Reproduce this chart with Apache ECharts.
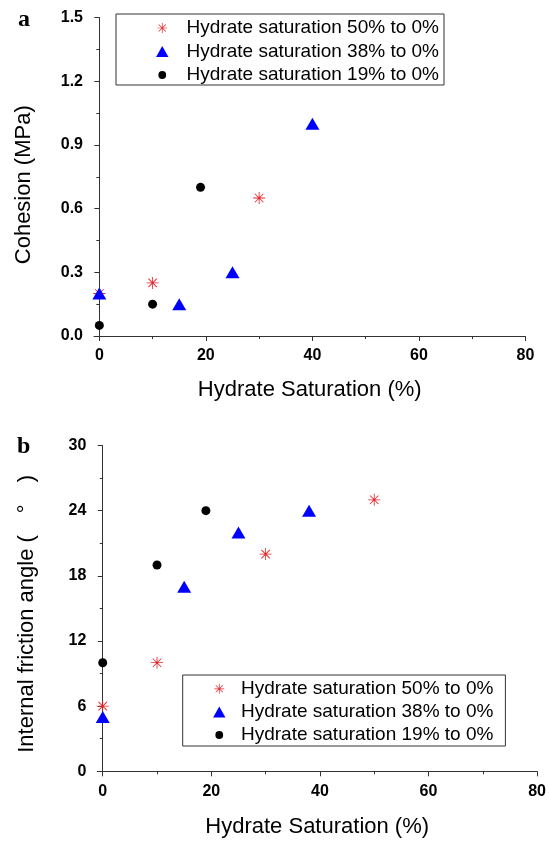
<!DOCTYPE html>
<html>
<head>
<meta charset="utf-8">
<script src="https://cdn.jsdelivr.net/npm/echarts@6/dist/echarts.min.js"></script>
<style>
html,body{margin:0;padding:0;background:#fff;}
#c{width:549px;height:843px;}
</style>
</head>
<body>
<div id="c"></div>
<script>
// ---- data ----
const seriesNames = ['Hydrate saturation 50% to 0%', 'Hydrate saturation 38% to 0%', 'Hydrate saturation 19% to 0%'];
const xTickValues = [0, 20, 40, 60, 80];
const xMinorValues = [10, 30, 50, 70];

// panel a: cohesion (MPa)
const cohX50 = [0, 10, 30];
const cohY50 = [0.2, 0.25, 0.65];
const cohX38 = [0, 15, 25, 40];
const cohY38 = [0.2, 0.15, 0.3, 1.0];
const cohX19 = [0, 10, 19];
const cohY19 = [0.05, 0.15, 0.7];

// panel b: internal friction angle (deg)
const friX50 = [0, 10, 30, 50];
const friY50 = [6, 10, 20, 25];
const friX38 = [0, 15, 25, 38];
const friY38 = [5, 17, 22, 24];
const friX19 = [0, 10, 19];
const friY19 = [10, 19, 24];

const zip = (xs, ys) => xs.map((x, i) => [x, ys[i]]);

const FONT = '"Liberation Sans", Arial, "Noto Sans CJK SC", sans-serif';
const AXC = '#333';
const RED = '#e8262a';
const BLUE = '#0000ff';
const BLACK = '#000000';
const STAR_BODY = 'M0 9.3L20 9.3L20 10.7L0 10.7Z M9.3 0L10.7 0L10.7 20L9.3 20Z M3.43 2.43L17.57 16.57L16.57 17.57L2.43 3.43Z M16.57 2.43L17.57 3.43L3.43 17.57L2.43 16.57Z M8 8L12 8L12 12L8 12Z';
const STAR = 'path://' + STAR_BODY;
// legend icons (degenerate corner points pad the icon box so the glyph keeps its size)
const LEG_STAR = 'path://M-1 -1Z M21 21Z ' + STAR_BODY;
const LEG_TRI = 'path://M5.5 0.5L11 10.3L0 10.3Z';
const LEG_DOT = 'path://M0 0Z M11 11Z M1.6 5.5A3.9 3.9 0 1 0 9.4 5.5A3.9 3.9 0 1 0 1.6 5.5Z';

const grids = [
  {left: 94, right: 23.5, top: 17.5, bottom: 507},
  {left: 97.3, right: 10.7, top: 445.5, bottom: 71.7}
];

function xAxisMain(gi, nameGap) {
  return {
    type: 'value', gridIndex: gi, min: -1, max: 80,
    name: 'Hydrate Saturation (%)', nameLocation: 'middle', nameGap: nameGap,
    nameTextStyle: {fontFamily: FONT, fontSize: 22, color: '#000'},
    axisLine: {show: true, lineStyle: {color: AXC, width: 1}},
    axisTick: {show: true, length: 5, customValues: xTickValues, lineStyle: {color: AXC}},
    axisLabel: {show: true, margin: 12, customValues: xTickValues, fontFamily: FONT, fontWeight: 'bold', fontSize: 16, color: '#000'},
    splitLine: {show: false}
  };
}
function xAxisMinor(gi) {
  return {
    type: 'value', gridIndex: gi, min: -1, max: 80, position: 'bottom',
    axisLine: {show: false},
    axisTick: {show: true, length: 3, customValues: xMinorValues, lineStyle: {color: AXC}},
    axisLabel: {show: false},
    splitLine: {show: false}
  };
}
function yAxis(gi, max, interval, name, nameGap, fmt, pad) {
  return {
    type: 'value', gridIndex: gi, min: 0, max: max, interval: interval,
    name: name, nameLocation: 'middle', nameGap: nameGap, nameRotate: 90,
    nameTextStyle: {fontFamily: FONT, fontSize: 22, color: '#000', padding: pad},
    axisLine: {show: true, lineStyle: {color: AXC, width: 1}},
    axisTick: {show: true, length: 5, lineStyle: {color: AXC}},
    minorTick: {show: true, splitNumber: 2, length: 3, lineStyle: {color: AXC}},
    axisLabel: {margin: 11, fontFamily: FONT, fontWeight: 'bold', fontSize: 16, color: '#000', formatter: fmt},
    splitLine: {show: false}, minorSplitLine: {show: false}
  };
}

function scat(name, data, xi, yi, sym, size, color) {
  return {
    type: 'scatter', name: name, xAxisIndex: xi, yAxisIndex: yi,
    symbol: sym, symbolSize: size, data: data,
    itemStyle: {color: color, opacity: 1},
    emphasis: {disabled: true}, animation: false
  };
}

function legend(left, top, pad, itemW, gap) {
  return {
    orient: 'vertical', left: left, top: top, padding: pad,
    itemWidth: itemW, itemHeight: 11, itemGap: gap,
    symbolKeepAspect: true,
    borderColor: '#333', borderWidth: 1, borderRadius: 0,
    selectedMode: false,
    textStyle: {fontFamily: FONT, fontSize: 19, color: '#000'},
    data: [
      {name: seriesNames[0], icon: LEG_STAR},
      {name: seriesNames[1], icon: LEG_TRI},
      {name: seriesNames[2], icon: LEG_DOT}
    ]
  };
}

const option = {
  backgroundColor: '#fff',
  animation: false,
  grid: grids,
  xAxis: [xAxisMain(0, 43), xAxisMinor(0), xAxisMain(1, 45), xAxisMinor(1)],
  yAxis: [
    yAxis(0, 1.5, 0.3, 'Cohesion (MPa)', 59, v => v.toFixed(1), [0, 16, 0, 0]),
    yAxis(1, 30, 6, 'Internal friction angle (\u2003\u00B0\u2003)', 59, v => String(v), [0, 11, 0, 0])
  ],
  legend: [
    legend(116, 14, [4.5, 5, 0.5, 40.1], 38.6, 4.5),
    legend(182.7, 675, [4.3, 12, 1.5, 30.4], 33.4, 4.1)
  ],
  series: [
    scat(seriesNames[0], zip(cohX50, cohY50), 0, 0, STAR, 12, RED),
    scat(seriesNames[1], zip(cohX38, cohY38), 0, 0, 'triangle', [14, 12], BLUE),
    scat(seriesNames[2], zip(cohX19, cohY19), 0, 0, 'circle', 9, BLACK),
    scat(seriesNames[0], zip(friX50, friY50), 2, 1, STAR, 12, RED),
    scat(seriesNames[1], zip(friX38, friY38), 2, 1, 'triangle', [14, 12], BLUE),
    scat(seriesNames[2], zip(friX19, friY19), 2, 1, 'circle', 9, BLACK)
  ],
  graphic: [
    {type: 'text', left: 18, top: 8, style: {text: 'a', font: 'bold 24px "Liberation Serif", "Times New Roman", serif', fill: '#000'}},
    {type: 'text', left: 17, top: 435, style: {text: 'b', font: 'bold 24px "Liberation Serif", "Times New Roman", serif', fill: '#000'}}
  ]
};

const chart = echarts.init(document.getElementById('c'), null, {renderer: 'canvas'});
chart.setOption(option);
</script>
</body>
</html>
